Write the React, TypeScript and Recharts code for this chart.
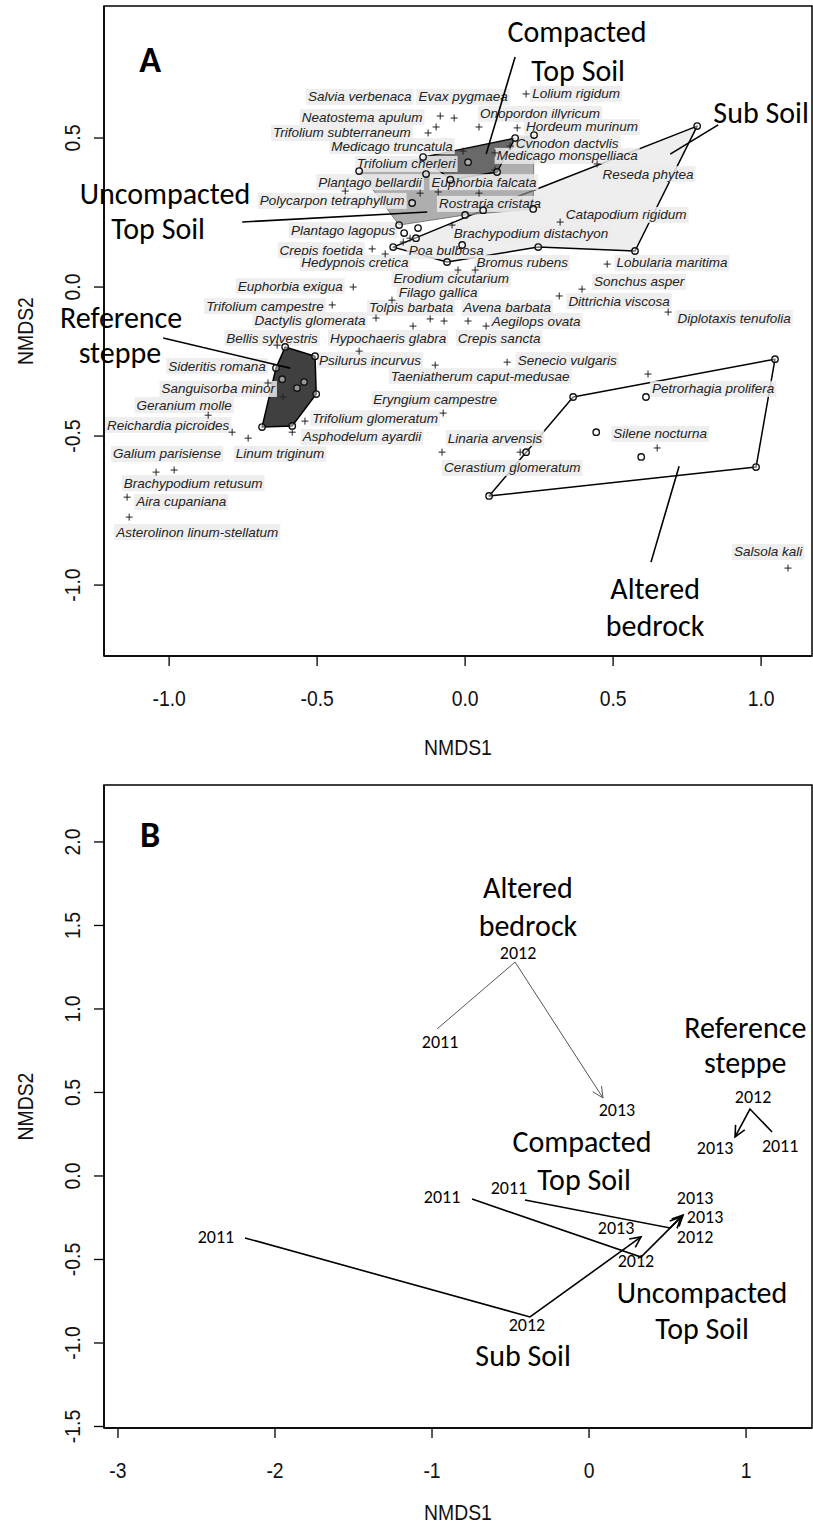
import React, { useLayoutEffect, useRef, useState } from 'react';
import { ScatterChart, Scatter, XAxis, YAxis, ReferenceArea } from 'recharts';

// ---------------- Panel A data ----------------
const aXDomain = [-1.22, 1.172];
const aYDomain = [-1.238, 0.943];
const aXTicks = [-1, -0.5, 0, 0.5, 1];
const aYTicks = [-1, -0.5, 0, 0.5];

const speciesLabels = [
  { name: 'Salvia verbenaca', x: -0.356, y: 0.638 },
  { name: 'Evax pygmaea', x: -0.007, y: 0.638 },
  { name: 'Lolium rigidum', x: 0.375, y: 0.648 },
  { name: 'Neatostema apulum', x: -0.348, y: 0.57 },
  { name: 'Onopordon  illyricum', x: 0.253, y: 0.581 },
  { name: 'Hordeum murinum', x: 0.395, y: 0.537 },
  { name: 'Trifolium subterraneum', x: -0.416, y: 0.517 },
  { name: 'Cynodon dactylis', x: 0.345, y: 0.483 },
  { name: 'Medicago truncatula', x: -0.247, y: 0.473 },
  { name: 'Medicago monspelliaca', x: 0.345, y: 0.44 },
  { name: 'Trifolium cherleri', x: -0.199, y: 0.413 },
  { name: 'Reseda phytea', x: 0.618, y: 0.379 },
  { name: 'Plantago bellardii', x: -0.321, y: 0.352 },
  { name: 'Euphorbia falcata', x: 0.064, y: 0.352 },
  { name: 'Polycarpon tetraphyllum', x: -0.449, y: 0.289 },
  { name: 'Rostraria cristata', x: 0.084, y: 0.279 },
  { name: 'Catapodium rigidum', x: 0.544, y: 0.242 },
  { name: 'Plantago lagopus', x: -0.412, y: 0.191 },
  { name: 'Brachypodium distachyon', x: 0.223, y: 0.181 },
  { name: 'Crepis foetida', x: -0.486, y: 0.124 },
  { name: 'Poa bulbosa', x: -0.064, y: 0.121 },
  { name: 'Hedypnois cretica', x: -0.372, y: 0.081 },
  { name: 'Bromus rubens', x: 0.193, y: 0.081 },
  { name: 'Lobularia maritima', x: 0.699, y: 0.081 },
  { name: 'Erodium cicutarium', x: -0.047, y: 0.027 },
  { name: 'Sonchus asper', x: 0.588, y: 0.017 },
  { name: 'Euphorbia exigua', x: -0.591, y: 0.003 },
  { name: 'Filago gallica', x: -0.091, y: -0.017 },
  { name: 'Dittrichia viscosa', x: 0.52, y: -0.047 },
  { name: 'Trifolium campestre', x: -0.676, y: -0.064 },
  { name: 'Tolpis barbata', x: -0.182, y: -0.07 },
  { name: 'Avena barbata', x: 0.142, y: -0.07 },
  { name: 'Diplotaxis tenufolia', x: 0.909, y: -0.104 },
  { name: 'Dactylis glomerata', x: -0.524, y: -0.111 },
  { name: 'Aegilops ovata', x: 0.24, y: -0.114 },
  { name: 'Bellis sylvestris', x: -0.652, y: -0.171 },
  { name: 'Hypochaeris glabra', x: -0.26, y: -0.171 },
  { name: 'Crepis sancta', x: 0.115, y: -0.171 },
  { name: 'Psilurus incurvus', x: -0.321, y: -0.245 },
  { name: 'Senecio vulgaris', x: 0.345, y: -0.245 },
  { name: 'Sideritis romana', x: -0.838, y: -0.265 },
  { name: 'Taeniatherum caput-medusae', x: 0.051, y: -0.299 },
  { name: 'Sanguisorba minor', x: -0.834, y: -0.342 },
  { name: 'Petrorhagia prolifera', x: 0.838, y: -0.342 },
  { name: 'Eryngium campestre', x: -0.101, y: -0.376 },
  { name: 'Geranium molle', x: -0.949, y: -0.396 },
  { name: 'Trifolium glomeratum', x: -0.304, y: -0.44 },
  { name: 'Reichardia picroides', x: -1.003, y: -0.463 },
  { name: 'Silene nocturna', x: 0.659, y: -0.493 },
  { name: 'Asphodelum ayardii', x: -0.348, y: -0.503 },
  { name: 'Linaria arvensis', x: 0.101, y: -0.507 },
  { name: 'Galium parisiense', x: -1.007, y: -0.56 },
  { name: 'Linum triginum', x: -0.625, y: -0.56 },
  { name: 'Cerastium glomeratum', x: 0.159, y: -0.607 },
  { name: 'Brachypodium retusum', x: -0.919, y: -0.658 },
  { name: 'Aira cupaniana', x: -0.959, y: -0.721 },
  { name: 'Asterolinon linum-stellatum', x: -0.905, y: -0.822 },
  { name: 'Salsola kali', x: 1.024, y: -0.889 },
];

const speciesPlus = [
  [-0.084, 0.574], [-0.037, 0.567], [-0.125, 0.517], [-0.098, 0.537], [-0.405, 0.322],
  [-0.152, 0.315], [-0.091, 0.319], [0.206, 0.648], [0.047, 0.537], [0.176, 0.534],
  [0.152, 0.473], [0.101, 0.45], [0.446, 0.413], [0.321, 0.218], [-0.007, 0.456],
  [0.101, 0.393], [0.047, 0.315], [-0.044, 0.208], [-0.314, 0.128], [-0.27, 0.111],
  [-0.378, 0.0], [-0.449, -0.06], [-0.301, -0.104], [-0.635, -0.195], [-0.358, -0.215],
  [-0.666, -0.322], [-0.615, -0.369], [-0.868, -0.43], [-0.541, -0.45], [-0.074, -0.423],
  [-0.247, -0.044], [-0.118, -0.107], [-0.071, -0.114], [-0.176, -0.131], [-0.101, -0.262],
  [-0.024, 0.057], [0.034, 0.057], [0.48, 0.077], [0.395, -0.007], [0.318, -0.03],
  [0.686, -0.084], [0.071, -0.131], [0.01, -0.114], [0.142, -0.252], [0.618, -0.292],
  [-0.787, -0.487], [-0.584, -0.487], [-0.733, -0.507], [-1.044, -0.621], [-0.983, -0.614],
  [-1.142, -0.705], [-1.135, -0.772], [-0.078, -0.554], [0.186, -0.554], [0.649, -0.54],
  [1.091, -0.943], [-0.186, 0.164], [-0.209, 0.151],
].map(([x, y]) => ({ x, y }));

const hullSubSoil = [
  [0.784, 0.54], [0.574, 0.121], [0.247, 0.134], [-0.061, 0.084], [-0.243, 0.134], [0.061, 0.258],
].map(([x, y]) => ({ x, y }));
const hullUncompacted = [
  [-0.358, 0.389], [0.233, 0.51], [0.23, 0.262], [0.0, 0.242], [-0.223, 0.208],
].map(([x, y]) => ({ x, y }));
const hullCompacted = [
  [-0.142, 0.436], [0.169, 0.5], [0.108, 0.386], [-0.05, 0.36],
].map(([x, y]) => ({ x, y }));
const hullReference = [
  [-0.608, -0.201], [-0.507, -0.232], [-0.503, -0.359], [-0.584, -0.466], [-0.686, -0.47], [-0.639, -0.272],
].map(([x, y]) => ({ x, y }));
const hullAltered = [
  [0.365, -0.369], [1.047, -0.242], [0.983, -0.604], [0.081, -0.701],
].map(([x, y]) => ({ x, y }));

const extraSites = [
  [0.01, 0.419], [-0.618, -0.309], [-0.544, -0.319], [-0.568, -0.339],
  [0.443, -0.487], [0.595, -0.57], [0.611, -0.369], [0.206, -0.554],
  [-0.206, 0.181], [-0.166, 0.164], [-0.159, 0.198], [-0.179, 0.282], [-0.132, 0.379], [-0.01, 0.141],
].map(([x, y]) => ({ x, y }));

const pointersA = [
  [[0.169, 0.772], [0.071, 0.446]],
  [[-0.753, 0.218], [-0.128, 0.252]],
  [[0.855, 0.544], [0.693, 0.446]],
  [[-1.02, -0.171], [-0.591, -0.272]],
  [[0.723, -0.601], [0.628, -0.923]],
].map((seg) => seg.map(([x, y]) => ({ x, y })));

const groupLabelsA = [
  { text: 'Compacted', x: 0.378, y: 0.856 },
  { text: 'Top Soil', x: 0.382, y: 0.728 },
  { text: 'Sub Soil', x: 1.0, y: 0.584 },
  { text: 'Uncompacted', x: -1.014, y: 0.315 },
  { text: 'Top Soil', x: -1.037, y: 0.198 },
  { text: 'Reference', x: -1.162, y: -0.101 },
  { text: 'steppe', x: -1.166, y: -0.221 },
  { text: 'Altered', x: 0.642, y: -1.01 },
  { text: 'bedrock', x: 0.642, y: -1.134 },
];
const panelLetterA = [{ text: 'A', x: -1.064, y: 0.762 }];

// ---------------- Panel B data ----------------
const bXDomain = [-3.089, 1.42];
const bYDomain = [-1.509, 2.341];
const bXTicks = [-3, -2, -1, 0, 1];
const bYTicks = [-1.5, -1, -0.5, 0, 0.5, 1, 1.5, 2];

const pathAltered = [[-0.968, 0.88], [-0.471, 1.281], [0.089, 0.467]].map(([x, y]) => ({ x, y }));
const pathReference = [[1.166, 0.263], [1.025, 0.401], [0.93, 0.234]].map(([x, y]) => ({ x, y }));
const pathCompacted = [[-0.408, -0.144], [0.516, -0.311], [0.599, -0.234]].map(([x, y]) => ({ x, y }));
const pathUncompacted = [[-0.745, -0.138], [0.331, -0.485], [0.586, -0.246]].map(([x, y]) => ({ x, y }));
const pathSubSoil = [[-2.191, -0.371], [-0.376, -0.844], [0.331, -0.365]].map(([x, y]) => ({ x, y }));

const yearLabelsB = [
  { text: '2011', x: -0.949, y: 0.802 }, { text: '2012', x: -0.452, y: 1.335 }, { text: '2013', x: 0.178, y: 0.395 },
  { text: '2011', x: 1.217, y: 0.18 }, { text: '2012', x: 1.045, y: 0.473 }, { text: '2013', x: 0.803, y: 0.168 },
  { text: '2011', x: -0.51, y: -0.072 }, { text: '2012', x: 0.675, y: -0.365 }, { text: '2013', x: 0.675, y: -0.132 },
  { text: '2011', x: -0.936, y: -0.126 }, { text: '2012', x: 0.299, y: -0.51 }, { text: '2013', x: 0.739, y: -0.246 },
  { text: '2011', x: -2.376, y: -0.365 }, { text: '2012', x: -0.395, y: -0.892 }, { text: '2013', x: 0.172, y: -0.311 },
];
const groupLabelsB = [
  { text: 'Altered', x: -0.389, y: 1.73 },
  { text: 'bedrock', x: -0.389, y: 1.5 },
  { text: 'Reference', x: 0.995, y: 0.892 },
  { text: 'steppe', x: 0.995, y: 0.677 },
  { text: 'Compacted', x: -0.045, y: 0.204 },
  { text: 'Top Soil', x: -0.032, y: -0.024 },
  { text: 'Uncompacted', x: 0.72, y: -0.7 },
  { text: 'Top Soil', x: 0.72, y: -0.915 },
  { text: 'Sub Soil', x: -0.42, y: -1.072 },
];
const panelLetterB = [{ text: 'B', x: -2.796, y: 2.042 }];

// ---------------- rendering helpers ----------------
const AXIS_FONT = '"Liberation Sans", Arial, sans-serif';
const LABEL_FONT = 'Carlito, Calibri, Lato, sans-serif';

const Empty = () => <g />;

function SpeciesLabel({ cx, cy, name }: any) {
  const ref = useRef<SVGTextElement>(null);
  const [w, setW] = useState(name.length * 7);
  useLayoutEffect(() => {
    if (ref.current) setW(ref.current.getComputedTextLength());
  }, [name]);
  return (
    <g>
      <rect x={cx - w / 2 - 2} y={cy - 8} width={w + 4} height={16} fill="#ebebeb" fillOpacity={0.85} />
      <text ref={ref} x={cx} y={cy} textAnchor="middle" dominantBaseline="central" fontSize={13.5}
        fontStyle="italic" fontFamily={AXIS_FONT} fill="#222">{name}</text>
    </g>
  );
}

const PlusShape = ({ cx, cy }: any) => (
  <g stroke="#222" strokeWidth={1}>
    <line x1={cx - 3.5} y1={cy} x2={cx + 3.5} y2={cy} />
    <line x1={cx} y1={cy - 3.5} x2={cx} y2={cy + 3.5} />
  </g>
);

const SiteShape = ({ cx, cy }: any) => (
  <circle cx={cx} cy={cy} r={3.2} fill="#fff" fillOpacity={0.45} stroke="#111" strokeWidth={1.4} />
);

const polyLine = (fill: string, opacity: number, stroke: string, sw: number) => (lp: any) => (
  <polygon points={(lp.points || []).map((p: any) => `${p.x},${p.y}`).join(' ')}
    fill={fill} fillOpacity={opacity} stroke={stroke} strokeWidth={sw} strokeLinejoin="round" />
);

const arrowLine = (stroke: string, sw: number) => (lp: any) => {
  const pts = lp.points || [];
  if (pts.length < 2) return <g />;
  const e = pts[pts.length - 1];
  const p = pts[pts.length - 2];
  const ang = Math.atan2(e.y - p.y, e.x - p.x);
  const L = 12;
  const a = Math.PI / 7;
  const h1 = { x: e.x - L * Math.cos(ang - a), y: e.y - L * Math.sin(ang - a) };
  const h2 = { x: e.x - L * Math.cos(ang + a), y: e.y - L * Math.sin(ang + a) };
  return (
    <g fill="none" stroke={stroke} strokeWidth={sw}>
      <polyline points={pts.map((q: any) => `${q.x},${q.y}`).join(' ')} />
      <polyline points={`${h1.x},${h1.y} ${e.x},${e.y} ${h2.x},${h2.y}`} />
    </g>
  );
};

const makeText = (size: number, weight: string | number) => (p: any) => (
  <text x={p.cx} y={p.cy} textAnchor="middle" dominantBaseline="central" fontSize={size}
    fontWeight={weight} fontFamily={LABEL_FONT} fill="#000">{p.payload.text}</text>
);
const GroupText = makeText(30, 400);
const LetterText = makeText(36, 700);
const YearText = makeText(18, 400);

const XTick = (digits: number) => (p: any) => (
  <text transform={`translate(${p.x},${p.y + 32}) scale(0.88,1)`} textAnchor="middle" dominantBaseline="central"
    fontSize={22} fontFamily={AXIS_FONT} fill="#111">{Number(p.payload.value).toFixed(digits)}</text>
);
const YTick = (digits: number) => (p: any) => (
  <text transform={`translate(${p.x - 22},${p.y}) rotate(-90) scale(0.88,1)`} textAnchor="middle" dominantBaseline="central"
    fontSize={22} fontFamily={AXIS_FONT} fill="#111">{Number(p.payload.value).toFixed(digits)}</text>
);

const xLabel = (off: number) => ({
  value: 'NMDS1',
  content: (props: any) => {
    const vb = props.viewBox || {};
    return (
      <text transform={`translate(${vb.x + vb.width / 2},${vb.y + off}) scale(0.88,1)`} textAnchor="middle"
        dominantBaseline="central" fontSize={22} fontFamily={AXIS_FONT} fill="#111">NMDS1</text>
    );
  },
});
const yLabel = {
  value: 'NMDS2',
  content: (props: any) => {
    const vb = props.viewBox || {};
    return (
      <text transform={`translate(${vb.x + 25},${vb.y + vb.height / 2}) rotate(-90) scale(0.88,1)`} textAnchor="middle"
        dominantBaseline="central" fontSize={22} fontFamily={AXIS_FONT} fill="#111">NMDS2</text>
    );
  },
};

const axisLineStyle = { stroke: '#000', strokeWidth: 1.5 };
const tickLineStyle = { stroke: '#000', strokeWidth: 1.3 };

function PanelA() {
  return (
    <ScatterChart width={813} height={760} margin={{ top: 6, right: 1, bottom: 4, left: 0 }}>
      <XAxis type="number" dataKey="x" domain={aXDomain} ticks={aXTicks} interval={0} height={100}
        tickSize={10} tickMargin={0} axisLine={axisLineStyle} tickLine={tickLineStyle}
        tick={XTick(1)} label={xLabel(91)} />
      <YAxis type="number" dataKey="y" domain={aYDomain} ticks={aYTicks} interval={0} width={104}
        tickSize={10} tickMargin={0} axisLine={axisLineStyle} tickLine={tickLineStyle}
        tick={YTick(1)} label={yLabel} />
      <ReferenceArea x1={aXDomain[0]} x2={aXDomain[1]} y1={aYDomain[0]} y2={aYDomain[1]}
        fill="none" stroke="#000" strokeWidth={1.5} ifOverflow="visible" />
      <Scatter data={hullSubSoil} shape={Empty} line={polyLine('#ededed', 0.95, '#000', 1.5)} isAnimationActive={false} />
      <Scatter data={hullUncompacted} shape={Empty} line={polyLine('#8c8c8c', 0.7, '#7a7a7a', 1)} isAnimationActive={false} />
      <Scatter data={hullCompacted} shape={Empty} line={polyLine('#4c4c4c', 0.7, '#000', 1.3)} isAnimationActive={false} />
      <Scatter data={hullReference} shape={Empty} line={polyLine('#404040', 1, '#000', 1.5)} isAnimationActive={false} />
      <Scatter data={hullAltered} shape={Empty} line={polyLine('#ffffff', 0, '#000', 1.5)} isAnimationActive={false} />
      <Scatter data={speciesLabels} isAnimationActive={false}
        shape={(p: any) => <SpeciesLabel cx={p.cx} cy={p.cy} name={p.payload.name} />} />
      <Scatter data={speciesPlus} shape={PlusShape} isAnimationActive={false} />
      {pointersA.map((seg, i) => (
        <Scatter key={`ptr${i}`} data={seg} shape={Empty} fill="#000"
          line={{ stroke: '#000', strokeWidth: 1.6 }} isAnimationActive={false} />
      ))}
      <Scatter data={hullSubSoil} shape={SiteShape} isAnimationActive={false} />
      <Scatter data={hullUncompacted} shape={SiteShape} isAnimationActive={false} />
      <Scatter data={hullCompacted} shape={SiteShape} isAnimationActive={false} />
      <Scatter data={hullReference} shape={SiteShape} isAnimationActive={false} />
      <Scatter data={hullAltered} shape={SiteShape} isAnimationActive={false} />
      <Scatter data={extraSites} shape={SiteShape} isAnimationActive={false} />
      <Scatter data={groupLabelsA} shape={GroupText} isAnimationActive={false} />
      <Scatter data={panelLetterA} shape={LetterText} isAnimationActive={false} />
    </ScatterChart>
  );
}

function PanelB() {
  return (
    <ScatterChart width={813} height={768} margin={{ top: 25, right: 1, bottom: 4, left: 0 }}>
      <XAxis type="number" dataKey="x" domain={bXDomain} ticks={bXTicks} interval={0} height={96}
        tickSize={10} tickMargin={0} axisLine={axisLineStyle} tickLine={tickLineStyle}
        tick={XTick(0)} label={xLabel(84)} />
      <YAxis type="number" dataKey="y" domain={bYDomain} ticks={bYTicks} interval={0} width={104}
        tickSize={10} tickMargin={0} axisLine={axisLineStyle} tickLine={tickLineStyle}
        tick={YTick(1)} label={yLabel} />
      <ReferenceArea x1={bXDomain[0]} x2={bXDomain[1]} y1={bYDomain[0]} y2={bYDomain[1]}
        fill="none" stroke="#000" strokeWidth={1.5} ifOverflow="visible" />
      <Scatter data={pathAltered} shape={Empty} line={arrowLine('#555', 1)} isAnimationActive={false} />
      <Scatter data={pathReference} shape={Empty} line={arrowLine('#000', 1.6)} isAnimationActive={false} />
      <Scatter data={pathCompacted} shape={Empty} line={arrowLine('#000', 1.6)} isAnimationActive={false} />
      <Scatter data={pathUncompacted} shape={Empty} line={arrowLine('#000', 1.6)} isAnimationActive={false} />
      <Scatter data={pathSubSoil} shape={Empty} line={arrowLine('#000', 1.6)} isAnimationActive={false} />
      <Scatter data={yearLabelsB} shape={YearText} isAnimationActive={false} />
      <Scatter data={groupLabelsB} shape={GroupText} isAnimationActive={false} />
      <Scatter data={panelLetterB} shape={LetterText} isAnimationActive={false} />
    </ScatterChart>
  );
}

export default function App() {
  return (
    <div style={{ position: 'absolute', left: 0, top: 0, width: 813, height: 1528, background: '#fff', overflow: 'hidden' }}>
      <div style={{ position: 'absolute', left: 0, top: 0 }}>
        <PanelA />
      </div>
      <div style={{ position: 'absolute', left: 0, top: 760 }}>
        <PanelB />
      </div>
    </div>
  );
}
